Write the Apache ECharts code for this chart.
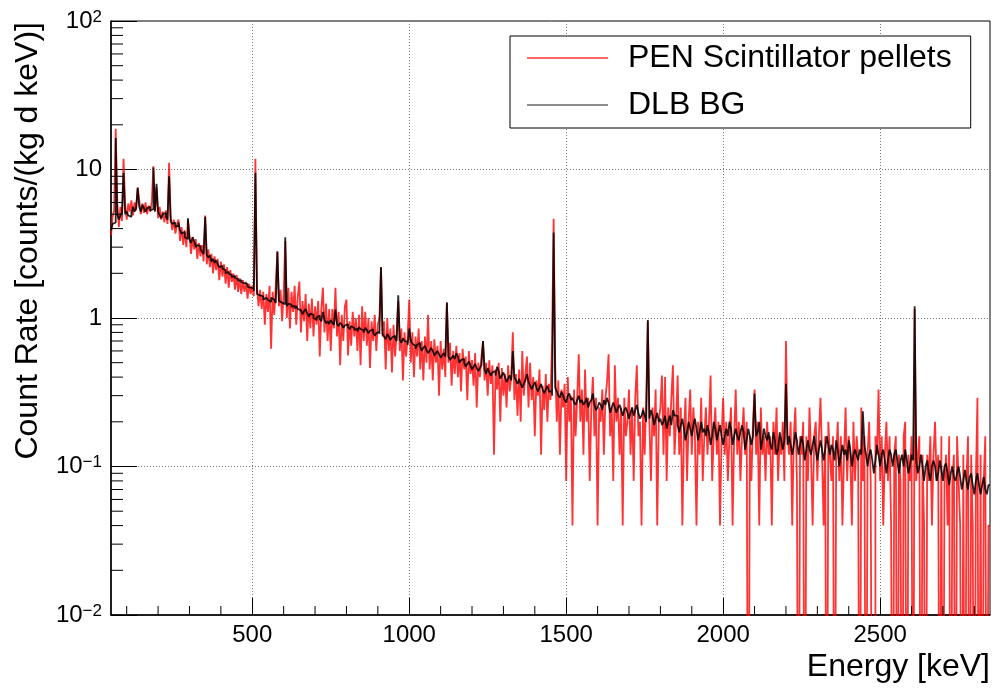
<!DOCTYPE html>
<html><head><meta charset="utf-8">
<script src="https://cdn.jsdelivr.net/npm/echarts@6/dist/echarts.min.js"></script>
<style>html,body{margin:0;padding:0;background:#fff}#c{width:993px;height:691px}</style>
</head><body><div id="c"></div>
<script>
// ---- data ----
const seriesNames = ['PEN Scintillator pellets', 'DLB BG'];
const energyMin = 50, energyMax = 2850;
// PEN pellets: 5 keV bins starting at 50 keV, counts/(kg d keV)  (0 = empty bin)
const penBinStart = 50, penBinWidth = 5;
const penValues = [
 3.6,4.8,5.3,18.8,6.0,4.1,5.6,4.5,11.8,5.8,4.6,5.9,5.2,6.2,4.9,6.0,5.3,7.6,6.2,5.0,
 5.9,5.1,6.0,5.0,5.7,5.2,6.1,10.5,5.3,7.6,4.7,5.6,4.6,5.2,4.4,5.3,4.3,11.1,4.9,3.9,
 4.6,3.7,4.2,4.6,3.3,4.1,3.1,3.9,3.0,4.6,3.6,2.7,3.5,2.9,3.4,2.5,3.2,2.6,3.1,2.4,
 4.9,2.3,2.9,2.2,2.7,2.0,2.6,2.1,2.5,1.8,2.4,1.9,2.3,1.7,2.2,1.6,2.1,1.75,2.0,1.55,
 1.95,1.5,1.85,1.45,1.8,1.5,1.75,1.35,1.7,1.45,1.65,1.4,11.8,1.6,1.2,1.55,1.15,1.5,0.9,1.45,
 1.1,1.65,0.62,1.5,1.05,1.7,2.8,1.2,1.55,0.95,1.45,3.3,1.0,1.6,0.85,1.5,1.1,1.65,0.9,1.4,
 1.76,0.8,1.3,0.95,1.45,0.7,1.25,0.85,1.35,0.75,1.2,0.9,1.3,0.55,1.15,1.6,0.8,1.25,0.7,1.15,
 0.6,1.15,0.85,1.6,0.75,1.1,0.48,1.05,0.7,1.2,1.33,0.56,0.95,0.65,1.1,0.75,1.0,0.6,1.05,0.48,
 1.2,0.7,1.1,0.65,1.0,0.46,0.95,0.7,1.05,0.6,0.9,1.0,2.2,0.75,0.95,0.45,1.0,0.6,0.85,0.43,
 0.9,0.55,0.8,1.3,0.6,0.85,0.38,0.8,0.55,0.75,1.33,0.5,0.8,0.4,0.75,0.55,0.85,0.45,0.7,0.38,
 0.75,0.5,1.05,0.45,0.7,0.38,0.72,0.5,0.65,0.3,0.7,0.45,0.62,0.4,1.27,0.5,0.68,0.35,0.6,0.42,
 0.65,0.4,0.58,0.32,0.62,0.45,0.55,0.28,0.6,0.42,0.52,0.35,0.58,0.25,0.5,0.4,0.55,0.7,0.38,0.5,
 0.3,0.52,0.36,0.48,0.12,0.45,0.33,0.5,0.2,0.46,0.3,0.42,0.25,0.48,0.32,0.4,0.8,0.28,0.42,0.22,
 0.45,0.2,0.6,0.3,0.42,0.55,0.25,0.5,0.28,0.4,0.16,0.38,0.3,0.45,0.12,0.35,0.24,0.42,0.2,0.36,
 0.28,0.7,4.66,0.48,0.2,0.38,0.12,0.33,0.25,0.36,0.08,0.4,0.2,0.3,0.04,0.33,0.16,0.29,0.57,0.2,
 0.33,0.12,0.45,0.2,0.29,0.08,0.25,0.4,0.16,0.29,0.04,0.25,0.2,0.33,0.12,0.29,0.37,0.57,0.16,0.25,
 0.08,0.48,0.2,0.29,0.12,0.25,0.04,0.29,0.16,0.2,0.33,0.12,0.25,0.08,0.29,0.48,0.16,0.2,0.04,0.25,
 0.12,0.29,0.95,0.2,0.08,0.25,0.16,0.33,0.04,0.2,0.25,0.41,0.12,0.4,0.08,0.25,0.16,0.29,0.48,0.12,
 0.2,0.41,0.12,0.25,0.04,0.16,0.29,0.08,0.2,0.33,0.12,0.25,0.16,0.04,0.2,0.12,0.29,0.08,0.16,0.25,
 0.12,0.2,0.41,0.08,0.16,0.25,0.12,0.2,0.04,0.16,0.29,0.12,0.2,0.08,0.16,0.25,0.04,0.16,0.33,0.12,
 0.2,0.08,0.16,0.25,0.12,0.2,0,0.16,0.08,0.2,0.33,0.12,0.2,0.04,0.25,0.12,0.16,0.08,0.2,0.12,
 0.16,0.04,0.2,0.12,0.25,0.08,0.16,0.12,0.2,0.08,0.7,0.16,0.12,0.2,0.04,0.16,0.25,0.08,0,0.16,
 0.12,0.2,0,0.16,0.08,0.25,0.12,0.04,0.16,0.2,0.08,0.16,0.29,0.12,0.04,0.16,0,0.2,0.12,0.08,
 0.16,0,0.12,0.2,0.08,0.16,0.04,0.12,0.25,0.08,0.16,0.12,0.04,0.2,0.08,0.16,0.12,0,0.25,0.08,
 0.16,0,0.12,0.2,0.08,0,0,0.16,0.12,0.33,0.08,0.16,0.04,0.12,0.2,0.08,0.16,0.04,0,0.12,
 0.16,0,0.12,0.08,0,0.16,0.2,0,0.12,0.08,0.16,0,1.15,0.08,0.12,0.16,0,0.12,0.04,0,
 0.12,0.08,0.16,0.04,0.12,0.2,0.08,0.12,0,0.16,0,0.08,0.12,0.04,0.16,0,0.08,0.12,0,0.16,
 0.08,0.04,0,0.12,0,0.08,0.16,0,0.12,0.04,0,0.08,0.29,0,0.12,0,0.08,0.16,0,0.04
];
// DLB background: 5 keV bins starting at 50 keV
const bgBinStart = 50, bgBinWidth = 5;
const bgValues = [
 3.9,4.3,4.4,16.3,5.0,4.6,4.9,5.1,9.5,5.0,5.2,4.9,4.8,5.1,5.6,5.2,5.5,7.5,5.6,5.2,
 5.8,5.5,5.2,5.5,5.6,5.3,5.4,10.3,5.2,8.0,5.2,4.9,4.7,5.0,5.1,4.8,4.6,9.0,4.5,4.3,
 4.4,4.1,4.2,4.4,3.9,3.7,3.8,3.5,3.4,4.7,3.4,3.2,3.5,3.3,3.0,3.1,3.05,2.9,2.8,2.7,
 4.8,2.65,2.55,2.65,2.4,2.5,2.35,2.45,2.3,2.2,2.25,2.15,2.1,2.0,2.05,1.98,1.95,1.88,1.92,1.85,
 1.84,1.78,1.8,1.74,1.72,1.68,1.69,1.62,1.6,1.56,1.58,1.52,9.5,1.45,1.42,1.38,1.4,1.33,1.37,1.35,
 1.32,1.28,1.37,1.33,1.3,1.26,2.8,1.3,1.27,1.31,1.24,3.5,1.2,1.25,1.23,1.19,1.21,1.16,1.2,1.15,
 1.13,1.1,1.06,1.11,1.15,1.08,1.02,1.07,1.05,1.0,0.97,1.01,1.04,0.98,0.95,1.1,0.97,0.92,0.95,0.91,
 0.97,0.93,0.9,1.14,0.91,0.88,0.93,0.9,0.86,0.89,0.91,0.87,0.84,0.88,0.86,0.83,0.85,0.81,0.87,0.84,
 0.83,0.8,0.86,0.83,0.79,0.82,0.84,0.8,0.76,0.79,0.81,0.78,2.2,0.78,0.75,0.72,0.78,0.75,0.71,0.74,
 0.76,0.73,0.7,1.42,0.71,0.68,0.73,0.7,0.69,0.66,0.85,0.7,0.67,0.65,0.62,0.66,0.68,0.64,0.6,0.63,
 0.65,0.61,0.58,0.6,0.63,0.6,0.56,0.58,0.6,0.57,0.54,0.56,0.58,0.55,1.27,0.55,0.52,0.54,0.56,0.53,
 0.58,0.55,0.5,0.52,0.53,0.5,0.47,0.49,0.51,0.48,0.45,0.47,0.49,0.46,0.44,0.46,0.48,0.7,0.45,0.42,
 0.46,0.43,0.41,0.43,0.44,0.41,0.47,0.44,0.39,0.41,0.43,0.4,0.37,0.39,0.41,0.38,0.6,0.4,0.38,0.36,
 0.39,0.36,0.34,0.36,0.38,0.42,0.37,0.35,0.33,0.35,0.37,0.34,0.32,0.34,0.36,0.33,0.31,0.33,0.35,0.32,
 0.32,0.3,3.77,0.34,0.32,0.3,0.29,0.32,0.3,0.28,0.27,0.3,0.31,0.28,0.29,0.27,0.26,0.28,0.3,0.27,
 0.28,0.26,0.27,0.29,0.25,0.27,0.28,0.31,0.26,0.24,0.25,0.27,0.26,0.24,0.28,0.26,0.29,0.27,0.23,0.25,
 0.27,0.25,0.23,0.25,0.26,0.24,0.22,0.24,0.25,0.23,0.21,0.23,0.25,0.22,0.24,0.26,0.23,0.21,0.22,0.24,
 0.22,0.2,0.97,0.21,0.24,0.22,0.19,0.21,0.23,0.2,0.21,0.19,0.2,0.22,0.18,0.2,0.22,0.19,0.24,0.22,
 0.22,0.19,0.17,0.19,0.21,0.18,0.15,0.17,0.2,0.18,0.16,0.19,0.21,0.18,0.15,0.17,0.2,0.17,0.18,0.16,
 0.19,0.17,0.14,0.16,0.2,0.18,0.15,0.17,0.19,0.16,0.14,0.16,0.18,0.16,0.2,0.18,0.14,0.16,0.18,0.16,
 0.15,0.17,0.19,0.17,0.13,0.15,0.18,0.16,0.14,0.16,0.31,0.16,0.17,0.2,0.13,0.15,0.18,0.16,0.15,0.17,
 0.14,0.13,0.17,0.15,0.12,0.13,0.17,0.15,0.13,0.15,0.36,0.14,0.16,0.14,0.12,0.14,0.17,0.15,0.12,0.14,
 0.16,0.14,0.11,0.13,0.15,0.13,0.12,0.14,0.16,0.13,0.11,0.13,0.15,0.13,0.11,0.13,0.16,0.14,0.12,0.14,
 0.13,0.11,0.15,0.13,0.1,0.12,0.14,0.12,0.13,0.11,0.15,0.13,0.1,0.12,0.13,0.12,0.11,0.13,0.12,0.235,
 0.14,0.12,0.1,0.12,0.13,0.11,0.09,0.11,0.14,0.12,0.1,0.12,0.13,0.11,0.09,0.11,0.13,0.12,0.1,0.12,
 0.13,0.11,0.09,0.11,0.12,0.1,0.13,0.11,0.09,0.1,0.12,0.11,1.2,0.11,0.09,0.1,0.12,0.1,0.08,0.1,
 0.11,0.09,0.08,0.1,0.11,0.1,0.08,0.09,0.11,0.095,0.08,0.1,0.105,0.09,0.075,0.09,0.1,0.085,0.08,0.09,
 0.1,0.085,0.07,0.08,0.095,0.08,0.07,0.085,0.09,0.075,0.065,0.08,0.09,0.075,0.065,0.075,0.085,0.07,0.065,0.075
];
// ticks
const xMajorTicks = [500, 1000, 1500, 2000, 2500];
const xMinorTicks = [100,200,300,400,600,700,800,900,1100,1200,1300,1400,1600,1700,1800,1900,2100,2200,2300,2400,2600,2700,2800];
const yMin = 0.01, yMax = 100;
const yMinorTicks = [0.02,0.03,0.04,0.05,0.06,0.07,0.08,0.09,0.2,0.3,0.4,0.5,0.6,0.7,0.8,0.9,2,3,4,5,6,7,8,9,20,30,40,50,60,70,80,90];
const xTitle = 'Energy [keV]';
const yTitle = 'Count Rate [counts/(kg d keV)]';

// ---- build ----
const FONT = "'Liberation Sans', Arial, Helvetica, sans-serif";
function histPoints(start, width, vals) {
  const pts = vals.map((v, i) => [start + i * width, v > 0 ? v : 1e-4]);
  pts.push([start + vals.length * width, pts[pts.length - 1][1]]);
  return pts;
}
const chart = echarts.init(document.getElementById('c'), null, {renderer: 'canvas'});

function tickSeries(vals, horizontal) {
  return {
    type: 'custom', coordinateSystem: 'cartesian2d', silent: true, clip: false, z: 6,
    data: vals.map(v => horizontal ? [energyMin, v] : [v, yMin]),
    renderItem: function (params, api) {
      const p = api.coord([api.value(0), api.value(1)]);
      return horizontal
        ? {type: 'line', shape: {x1: p[0], y1: p[1], x2: p[0] + 12, y2: p[1]}, style: {stroke: '#000', lineWidth: 1}}
        : {type: 'line', shape: {x1: p[0], y1: p[1], x2: p[0], y2: p[1] - 9}, style: {stroke: '#000', lineWidth: 1}};
    }
  };
}

const option = {
  animation: false,
  backgroundColor: '#fff',
  grid: {left: 111, right: 3, top: 21, bottom: 76, show: true, borderColor: '#000', borderWidth: 1, backgroundColor: 'transparent'},
  legend: {
    data: seriesNames, orient: 'vertical', left: 510, top: 36,
    backgroundColor: '#fff', borderColor: '#000', borderWidth: 1,
    padding: [4, 19, 5, 17], itemWidth: 81, itemHeight: 1.5, itemGap: 11, icon: 'rect',
    textStyle: {fontSize: 32, fontFamily: FONT, color: '#000', lineHeight: 36, padding: [0, 0, 0, 15]},
    selectedMode: false
  },
  xAxis: {
    type: 'value', min: energyMin, max: energyMax,
    axisLine: {show: true, lineStyle: {color: '#000', width: 1.5}},
    axisTick: {show: true, inside: true, length: 17, customValues: xMajorTicks, lineStyle: {color: '#000'}},
    axisLabel: {customValues: xMajorTicks, fontSize: 24, fontFamily: FONT, color: '#000', margin: 8,
      formatter: function (v) { return String(v); }},
    splitLine: {show: true, lineStyle: {color: '#777', type: [1, 2], width: 1}}
  },
  yAxis: {
    type: 'log', logBase: 10, min: yMin, max: yMax,
    axisLine: {show: true, lineStyle: {color: '#000', width: 1.5}},
    axisTick: {show: true, inside: true, length: 26, lineStyle: {color: '#000'}},
    axisLabel: {
      fontSize: 24, fontFamily: FONT, color: '#000', margin: 9,
      formatter: function (v) {
        const e = Math.round(Math.log10(v));
        if (e === 0) return '1';
        if (e === 1) return '10';
        return '10{sup|' + (e < 0 ? '\u2212' + (-e) : e) + '}';
      },
      rich: {sup: {fontSize: 17, fontFamily: FONT, color: '#000', verticalAlign: 'top', padding: [0, 0, 8, 0]}}
    },
    splitLine: {show: true, lineStyle: {color: '#777', type: [1, 2], width: 1}}
  },
  graphic: [
    {type: 'text', x: 990, y: 667, style: {text: xTitle, font: '32px ' + FONT, fill: '#000', align: 'right', verticalAlign: 'middle'}},
    {type: 'text', x: 28, y: 22, rotation: Math.PI / 2, style: {text: yTitle, font: '32px ' + FONT, fill: '#000', align: 'right', verticalAlign: 'middle'}}
  ],
  series: [
    {name: seriesNames[0], type: 'line', step: 'end', data: histPoints(penBinStart, penBinWidth, penValues),
     showSymbol: false, symbol: 'none', color: 'rgba(255,0,0,0.8)', lineStyle: {width: 1.8, color: 'rgba(255,0,0,0.8)'}, z: 2},
    {name: seriesNames[1], type: 'line', step: 'end', data: histPoints(bgBinStart, bgBinWidth, bgValues),
     showSymbol: false, symbol: 'none', color: 'rgba(0,0,0,0.6)', lineStyle: {width: 1.8, color: 'rgba(0,0,0,0.85)'}, z: 3},
    tickSeries(yMinorTicks, true),
    tickSeries(xMinorTicks, false)
  ]
};
chart.setOption(option);
</script></body></html>
